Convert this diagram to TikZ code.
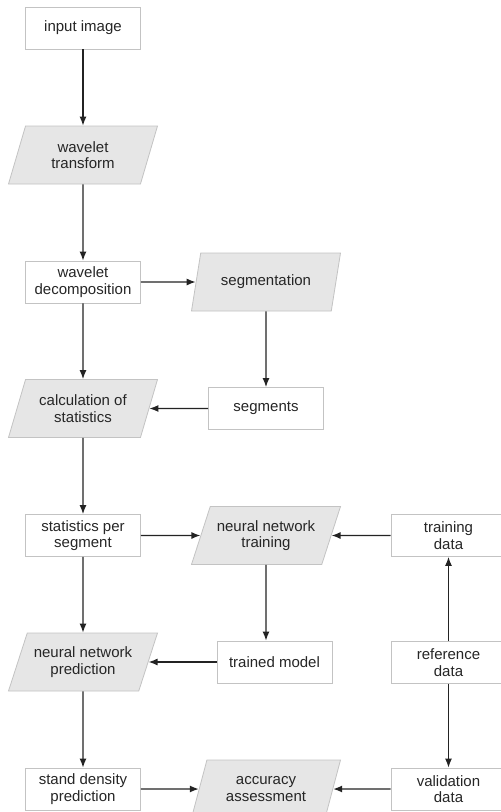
\documentclass[tikz,border=0pt]{standalone}
\usepackage{fontspec}
\setmainfont{Liberation Sans}
\usetikzlibrary{arrows.meta,shapes.geometric}
\definecolor{parac}{RGB}{230,230,230}
\definecolor{edgec}{RGB}{195,195,195}
\definecolor{linec}{RGB}{35,35,35}
\tikzset{
  box/.style={rectangle,draw=edgec,fill=white,line width=0.8pt,minimum width=115pt,minimum height=42pt,inner sep=1pt,align=center,font=\fontsize{15}{16.5}\selectfont,text=black!85},
  proc/.style={trapezium,trapezium left angle=60,trapezium right angle=120,trapezium stretches body,draw=edgec,fill=parac,line width=0.8pt,minimum width=149pt,minimum height=58pt,inner sep=1pt,align=center,font=\fontsize{15}{16.5}\selectfont,text=black!85},
  flow/.style={-{Latex[length=9pt,width=7pt]},line width=1.3pt,linec},
}
\begin{document}
\begin{tikzpicture}[x=1pt,y=-1pt]
  \useasboundingbox (0,0) rectangle (501,812);
  % left column
  \node[box] (img) at (83,28){input image};
  \node[proc] (wt) at (83,155){wavelet\\transform};
  \node[box] (dec) at (83,282){wavelet\\decomposition};
  \node[proc] (calc) at (83,408.5){calculation of\\statistics};
  \node[box] (stat) at (83,535.5){statistics per\\segment};
  \node[proc] (pred) at (83,662){neural network\\prediction};
  \node[box] (dens) at (83,789){stand density\\prediction};
  % middle column
  \node[proc] (seg) at (266,282){segmentation};
  \node[box] (segs) at (266,408.5){segments};
  \node[proc] (train) at (266,535.5){neural network\\training};
  \node[box] (model) at (274.5,662){trained model};
  \node[proc] (acc) at (266,789){accuracy\\assessment};
  % reference data
  \node[box] (tdat) at (448.5,535.5){training\\data};
  \node[box] (ref) at (448.5,662.5){reference\\data};
  \node[box] (vdat) at (448.5,789){validation\\data};
  % arrows
  \draw[flow] (img)--(wt); \draw[flow] (wt)--(dec); \draw[flow] (dec)--(calc);
  \draw[flow] (calc)--(stat); \draw[flow] (stat)--(pred); \draw[flow] (pred)--(dens);
  \draw[flow] (dec)--(seg); \draw[flow] (seg)--(segs); \draw[flow] (segs)--(calc);
  \draw[flow] (stat)--(train); \draw[flow] (tdat)--(train);
  \draw[flow] (train)--(train|-model.north); \draw[flow] (model)--(model-|pred.east);
  \draw[flow] (ref)--(tdat); \draw[flow] (ref)--(vdat);
  \draw[flow] (dens)--(acc); \draw[flow] (vdat)--(acc);
\end{tikzpicture}
\end{document}
